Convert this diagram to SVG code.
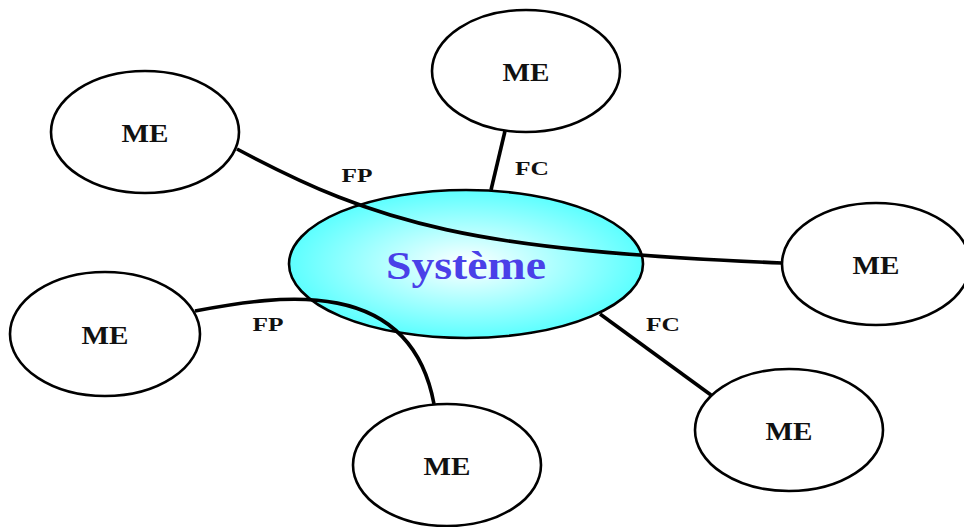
<svg xmlns="http://www.w3.org/2000/svg" width="964" height="527" viewBox="0 0 964 527">
  <defs>
    <radialGradient id="sysFill" cx="50%" cy="50%" r="50%">
      <stop offset="0%" stop-color="#ffffff"/>
      <stop offset="100%" stop-color="#5cffff"/>
    </radialGradient>
    <style>
      .me { fill: #ffffff; stroke: #000000; stroke-width: 2.6; }
      .sys { fill: url(#sysFill); stroke: #000000; stroke-width: 2.6; }
      .lbl { font-family: "Liberation Serif", "Times New Roman", serif; font-weight: bold; fill: #111111; text-anchor: middle; }
      .me-t { font-size: 26px; }
      .edge { fill: none; stroke: #000000; stroke-width: 3.6; }
      .edge-t { font-size: 18px; }
      .sys-t { font-family: "Liberation Serif", "Times New Roman", serif; font-weight: bold; font-size: 40px; fill: #4a40e8; text-anchor: middle; }
    </style>
  </defs>

  <rect width="964" height="527" fill="#ffffff"/>

  <!-- central system -->
  <g id="systeme">
    <ellipse class="sys" cx="466" cy="264" rx="177" ry="74"/>
    <text class="sys-t" x="466" y="279" textLength="160" lengthAdjust="spacingAndGlyphs">Système</text>
  </g>

  <!-- surrounding environment elements -->
  <g id="me-top">
    <ellipse class="me" cx="526" cy="71" rx="94" ry="61"/>
    <text class="lbl me-t" x="526" y="81" textLength="47" lengthAdjust="spacingAndGlyphs">ME</text>
  </g>
  <g id="me-topleft">
    <ellipse class="me" cx="145" cy="132" rx="94" ry="61"/>
    <text class="lbl me-t" x="145" y="142" textLength="47" lengthAdjust="spacingAndGlyphs">ME</text>
  </g>
  <g id="me-right">
    <ellipse class="me" cx="876" cy="264" rx="94" ry="61"/>
    <text class="lbl me-t" x="876" y="274" textLength="47" lengthAdjust="spacingAndGlyphs">ME</text>
  </g>
  <g id="me-left">
    <ellipse class="me" cx="105" cy="334" rx="95" ry="62"/>
    <text class="lbl me-t" x="105" y="344" textLength="47" lengthAdjust="spacingAndGlyphs">ME</text>
  </g>
  <g id="me-bottom">
    <ellipse class="me" cx="447" cy="465" rx="94" ry="61"/>
    <text class="lbl me-t" x="447" y="475" textLength="47" lengthAdjust="spacingAndGlyphs">ME</text>
  </g>
  <g id="me-bottomright">
    <ellipse class="me" cx="789" cy="430" rx="94" ry="61"/>
    <text class="lbl me-t" x="789" y="440" textLength="47" lengthAdjust="spacingAndGlyphs">ME</text>
  </g>

  <!-- functions: FC (constraint) and FP (principal) -->
  <g id="connectors">
    <path class="edge" d="M505,131 L491,190"/>
    <path class="edge" d="M600,314 L711,395"/>
    <path class="edge" d="M237,149 C380,225 470,250 782,263"/>
    <path class="edge" d="M195,311 C280,295 410,275 434,404"/>
    <text class="lbl edge-t" x="532" y="175" textLength="34" lengthAdjust="spacingAndGlyphs">FC</text>
    <text class="lbl edge-t" x="663" y="331" textLength="34" lengthAdjust="spacingAndGlyphs">FC</text>
    <text class="lbl edge-t" x="357" y="182" textLength="31" lengthAdjust="spacingAndGlyphs">FP</text>
    <text class="lbl edge-t" x="268" y="331" textLength="31" lengthAdjust="spacingAndGlyphs">FP</text>
  </g>
</svg>
